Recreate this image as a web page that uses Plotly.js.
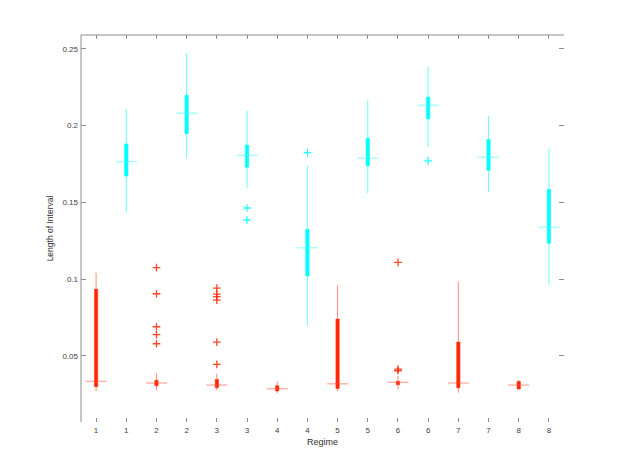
<!DOCTYPE html>
<html>
<head>
<meta charset="utf-8">
<script src="https://cdn.plot.ly/plotly-3.0.1.min.js"></script>
<style>html,body{margin:0;padding:0;background:#fff;}#chart{width:623px;height:475px;}</style>
</head>
<body>
<div id="chart"></div>
<script>
// Regime tick labels (16 groups: red then cyan per regime)
const tickLabels = ['1','1','2','2','3','3','4','4','5','5','6','6','7','7','8','8'];
const regimes = [1,2,3,4,5,6,7,8];

// Red series statistics (per regime)
const redQ1     = [0.0298, 0.0304, 0.0291, 0.0270, 0.0287, 0.0311, 0.0291, 0.0283];
const redMedian = [0.0333, 0.0322, 0.0309, 0.0285, 0.0317, 0.0327, 0.0322, 0.0309];
const redQ3     = [0.0933, 0.0340, 0.0346, 0.0304, 0.0739, 0.0333, 0.0589, 0.0333];
const redLower  = [0.0270, 0.0274, 0.0274, 0.0255, 0.0270, 0.0281, 0.0259, 0.0280];
const redUpper  = [0.1041, 0.0385, 0.0381, 0.0333, 0.0957, 0.0368, 0.0983, 0.0340];
const redOutlierRegime = [2, 2, 2, 2, 2, 3, 3, 3, 3, 3, 3, 6, 6, 6];
const redOutlierValue  = [0.1074, 0.0904, 0.0689, 0.0637, 0.0578,
                          0.0941, 0.0902, 0.0885, 0.0863, 0.0589, 0.0444,
                          0.1109, 0.0413, 0.0402];

// Cyan series statistics (per regime)
const cyanQ1     = [0.1672, 0.1948, 0.1729, 0.1020, 0.1739, 0.2045, 0.1709, 0.1233];
const cyanMedian = [0.1765, 0.2081, 0.1807, 0.1204, 0.1787, 0.2133, 0.1794, 0.1337];
const cyanQ3     = [0.1880, 0.2198, 0.1874, 0.1324, 0.1918, 0.2185, 0.1909, 0.1585];
const cyanLower  = [0.1431, 0.1791, 0.1592, 0.0694, 0.1559, 0.1863, 0.1567, 0.0966];
const cyanUpper  = [0.2109, 0.2472, 0.2098, 0.1739, 0.2167, 0.2385, 0.2063, 0.1852];
const cyanOutlierRegime = [3, 3, 4, 6];
const cyanOutlierValue  = [0.1463, 0.1385, 0.1824, 0.1770];

const yTickVals = [0.05, 0.1, 0.15, 0.2, 0.25];
const yTickText = ['0.05', '0.1', '0.15', '0.2', '0.25'];

// slot index: red of regime r -> 2r-1, cyan -> 2r
const redPos  = regimes.map(r => 2 * r - 1);
const cyanPos = regimes.map(r => 2 * r);
const redOutPos  = redOutlierRegime.map(r => 2 * r - 1);
const cyanOutPos = cyanOutlierRegime.map(r => 2 * r);

const RED = 'rgb(255,38,0)';
const CYAN = 'rgb(0,255,255)';

function boxTrace(pos, q1, med, q3, lo, hi, fill, line) {
  return {
    type: 'box', x: pos, q1: q1, median: med, q3: q3,
    lowerfence: lo, upperfence: hi,
    width: 0.11, whiskerwidth: 0, boxpoints: false,
    fillcolor: fill, line: {color: line, width: 1},
    hoverinfo: 'skip', showlegend: false
  };
}
function medTrace(pos, med, color) {
  return {
    type: 'scatter', mode: 'markers', x: pos, y: med,
    marker: {symbol: 'line-ew', size: 15, line: {color: color, width: 1.4}},
    hoverinfo: 'skip', showlegend: false
  };
}
function outTrace(pos, vals, color) {
  return {
    type: 'scatter', mode: 'markers', x: pos, y: vals,
    marker: {symbol: 'cross-thin', size: 5.5, line: {color: color, width: 1.3}},
    hoverinfo: 'skip', showlegend: false
  };
}

const data = [
  boxTrace(redPos, redQ1, redMedian, redQ3, redLower, redUpper, RED, 'rgba(255,60,30,0.6)'),
  boxTrace(cyanPos, cyanQ1, cyanMedian, cyanQ3, cyanLower, cyanUpper, CYAN, 'rgba(0,255,255,0.6)'),
  medTrace(redPos, redMedian, 'rgba(255,80,60,0.45)'),
  medTrace(cyanPos, cyanMedian, 'rgba(80,255,255,0.5)'),
  outTrace(redOutPos, redOutlierValue, 'rgba(255,38,0,0.85)'),
  outTrace(cyanOutPos, cyanOutlierValue, 'rgba(0,255,255,0.85)')
];

const axisGray = '#8c8c8c';
const font = {family: 'Liberation Sans, Arial, sans-serif', size: 8, color: '#404040'};

const layout = {
  width: 623, height: 475,
  margin: {l: 81, r: 59, t: 35, b: 53, pad: 0},
  paper_bgcolor: '#fff', plot_bgcolor: '#fff',
  font: font,
  showlegend: false,
  boxmode: 'overlay',
  xaxis: {
    range: [0.5, 16.5], autorange: false,
    tickmode: 'array',
    tickvals: tickLabels.map((t, i) => i + 1),
    ticktext: tickLabels,
    ticks: 'inside', ticklen: 4, tickwidth: 1, tickcolor: axisGray,
    mirror: 'ticks', showline: false, showgrid: false, zeroline: false,
    ticklabelstandoff: 2,
    tickfont: {family: font.family, size: 8, color: '#404040'},
    title: {text: 'Regime', font: {family: font.family, size: 9, color: '#303030'}, standoff: 4}
  },
  yaxis: {
    range: [0.0068, 0.2591], autorange: false,
    tickmode: 'array', tickvals: yTickVals, ticktext: yTickText,
    ticks: 'inside', ticklen: 5, tickwidth: 1, tickcolor: axisGray,
    mirror: 'ticks', showline: false, showgrid: false, zeroline: false,
    ticklabelstandoff: 2,
    tickfont: {family: font.family, size: 8, color: '#404040'},
    title: {text: 'Length of Interval', font: {family: font.family, size: 8.5, color: '#303030'}, standoff: 7}
  },
  shapes: [
    {type: 'line', xref: 'paper', yref: 'paper', x0: 0, x1: 0, y0: 0, y1: 1, line: {color: axisGray, width: 1}},
    {type: 'line', xref: 'paper', yref: 'paper', x0: 0, x1: 1, y0: 1, y1: 1, line: {color: axisGray, width: 1}}
  ]
};

Plotly.newPlot('chart', data, layout, {displayModeBar: false, staticPlot: true});
</script>
</body>
</html>
